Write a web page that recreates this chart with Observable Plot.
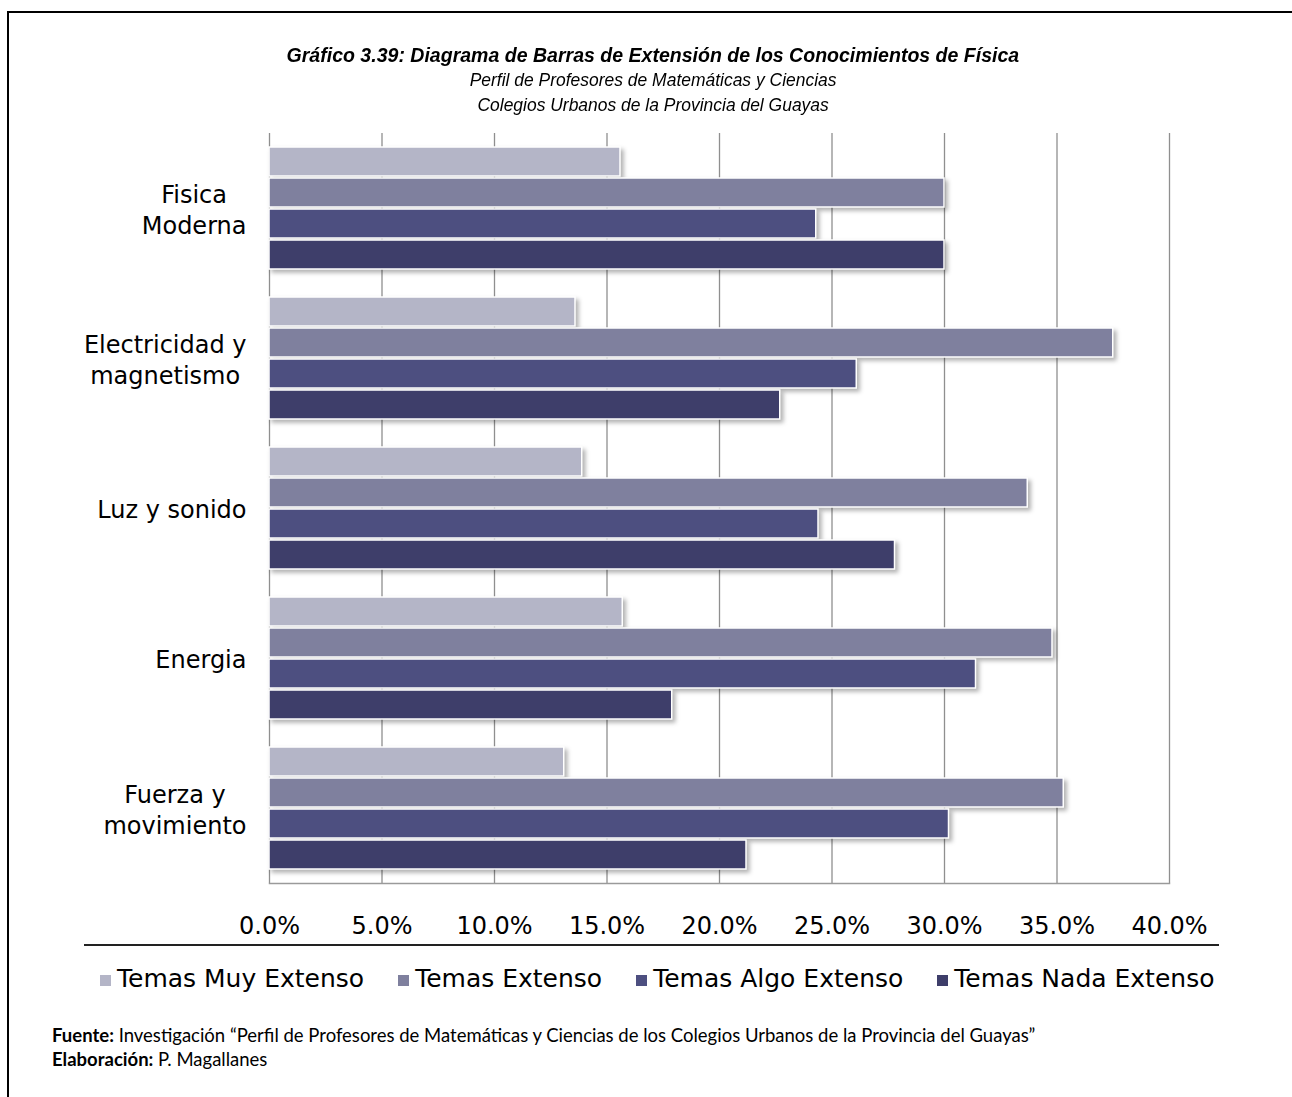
<!DOCTYPE html>
<html>
<head>
<meta charset="utf-8">
<script src="https://cdn.jsdelivr.net/npm/d3@7"></script>
<script src="https://cdn.jsdelivr.net/npm/@observablehq/plot@0.6"></script>
<style>
  body { margin: 0; background: #fff; }
  #page { position: relative; width: 1292px; height: 1097px; overflow: hidden; background: #fff; }
  #frame { position: absolute; left: 7px; top: 11px; width: 1400px; height: 1200px; border-top: 2px solid #000; border-left: 2px solid #000; }
  .t { position: absolute; left: 0; width: 1306px; text-align: center; color: #000;
       font-family: "Liberation Sans Narrow", "Arial Narrow", "Liberation Sans", sans-serif; font-style: italic; }
  .t span { display: inline-block; white-space: nowrap; }
  #title { top: 43px; font-size: 21px; line-height: 24px; font-weight: bold; }
  #title span { transform: scaleX(0.93); }
  #sub1 { top: 69px; font-size: 18px; line-height: 22px; }
  #sub2 { top: 94px; font-size: 18px; line-height: 22px; }
  #sub1 span, #sub2 span { transform: scaleX(0.97); }
  #chart { position: absolute; left: 0; top: 0; }
  #sep { position: absolute; left: 84px; top: 944px; width: 1135px; height: 2px; background: #222; }
  #legend { position: absolute; left: 100px; top: 966px; display: flex; gap: 34px; font-family: "DejaVu Sans", sans-serif; font-size: 25px; line-height: 26px; color: #000; white-space: nowrap; }
  #legend .item { display: flex; align-items: center; }
  #legend .sw { width: 11px; height: 11px; margin-right: 6px; margin-top: 2px; }
  #footer { position: absolute; left: 52px; top: 1023px; font-family: Lato, "Open Sans", sans-serif; font-size: 18.5px; line-height: 24px; color: #000; white-space: nowrap; }
</style>
</head>
<body>
<div id="page">
  <div id="frame"></div>
  <div class="t" id="title"><span>Gráfico 3.39: Diagrama de Barras de Extensión de los Conocimientos de Física</span></div>
  <div class="t" id="sub1"><span>Perfil de Profesores de Matemáticas y Ciencias</span></div>
  <div class="t" id="sub2"><span>Colegios Urbanos de la Provincia del Guayas</span></div>
  <div id="chart"></div>
  <div id="sep"></div>
  <div id="legend"></div>
  <div id="footer">
    <div><b>Fuente:</b> Investigación “Perfil de Profesores de Matemáticas y Ciencias de los Colegios Urbanos de la Provincia del Guayas”</div>
    <div><b>Elaboración:</b> P. Magallanes</div>
  </div>
</div>
<script>
// ---- Data ----
const categories = ["Fisica Moderna", "Electricidad y magnetismo", "Luz y sonido", "Energia", "Fuerza y movimiento"];
const categoryLabels = ["Fisica\nModerna", "Electricidad y\nmagnetismo", "Luz y sonido", "Energia", "Fuerza y\nmovimiento"];
const series = ["Temas Muy Extenso", "Temas Extenso", "Temas Algo Extenso", "Temas Nada Extenso"];
const muyExtenso  = [15.6, 13.6, 13.9, 15.7, 13.1];
const extenso     = [30.0, 37.5, 33.7, 34.8, 35.3];
const algoExtenso = [24.3, 26.1, 24.4, 31.4, 30.2];
const nadaExtenso = [30.0, 22.7, 27.8, 17.9, 21.2];
const xTicks = [0, 5, 10, 15, 20, 25, 30, 35, 40];
const colors = ["#b4b5c7", "#7f809e", "#4d4f80", "#3e3e6a"];

const seriesValues = [muyExtenso, extenso, algoExtenso, nadaExtenso];
const rows = [];
categories.forEach((c, i) => series.forEach((s, j) => rows.push({category: c, series: s, value: seriesValues[j][i]})));

const chart = Plot.plot({
  width: 1292,
  height: 950,
  marginTop: 132,
  marginBottom: 65.5,
  marginLeft: 269,
  marginRight: 123,
  style: {fontFamily: "DejaVu Sans, sans-serif", fontSize: "24px", color: "#000", background: "transparent"},
  x: {domain: [0, 40], axis: null},
  y: {domain: series, axis: null, paddingInner: 0.08, paddingOuter: 0.44},
  fy: {domain: categories, axis: null, padding: 0},
  color: {domain: series, range: colors},
  marks: [
    Plot.ruleX(xTicks, {stroke: "#8f8f8f", strokeWidth: 1.3}),
    Plot.barX(rows, {fy: "category", y: "series", x: "value", fill: "series", stroke: "#fff", strokeWidth: 1.5}),
    Plot.text(categories, {fy: d => d, text: (d, i) => categoryLabels[i], frameAnchor: "left", textAnchor: "end", dx: -23, lineHeight: 1.3, fill: "#000"}),
    Plot.axisX(xTicks, {tickSize: 0, tickPadding: 33, tickFormat: d => d.toFixed(1) + "%", fontSize: 24, fill: "#000", label: null}),
    Plot.frame({anchor: "bottom", facetAnchor: "bottom", stroke: "#9a9a9a", strokeWidth: 1.5})
  ]
});
document.getElementById("chart").appendChild(chart);

// drop shadows on bars
chart.querySelectorAll('g[aria-label="bar"] rect').forEach(r => {
  r.style.filter = "drop-shadow(3px 3px 2px rgba(0,0,0,0.3))";
});
// center multi-line category labels within their right-aligned block
chart.querySelectorAll('g[aria-label="text"] text').forEach(t => {
  const spans = t.querySelectorAll("tspan");
  if (spans.length > 1) {
    const w = t.getBBox().width;
    t.setAttribute("text-anchor", "middle");
    spans.forEach(s => s.setAttribute("x", -w / 2));
  }
});

// legend
const legend = document.getElementById("legend");
series.forEach((s, i) => {
  const item = document.createElement("div");
  item.className = "item";
  const sw = document.createElement("span");
  sw.className = "sw";
  sw.style.background = colors[i];
  const label = document.createElement("span");
  label.textContent = s;
  item.appendChild(sw);
  item.appendChild(label);
  legend.appendChild(item);
});
</script>
</body>
</html>
